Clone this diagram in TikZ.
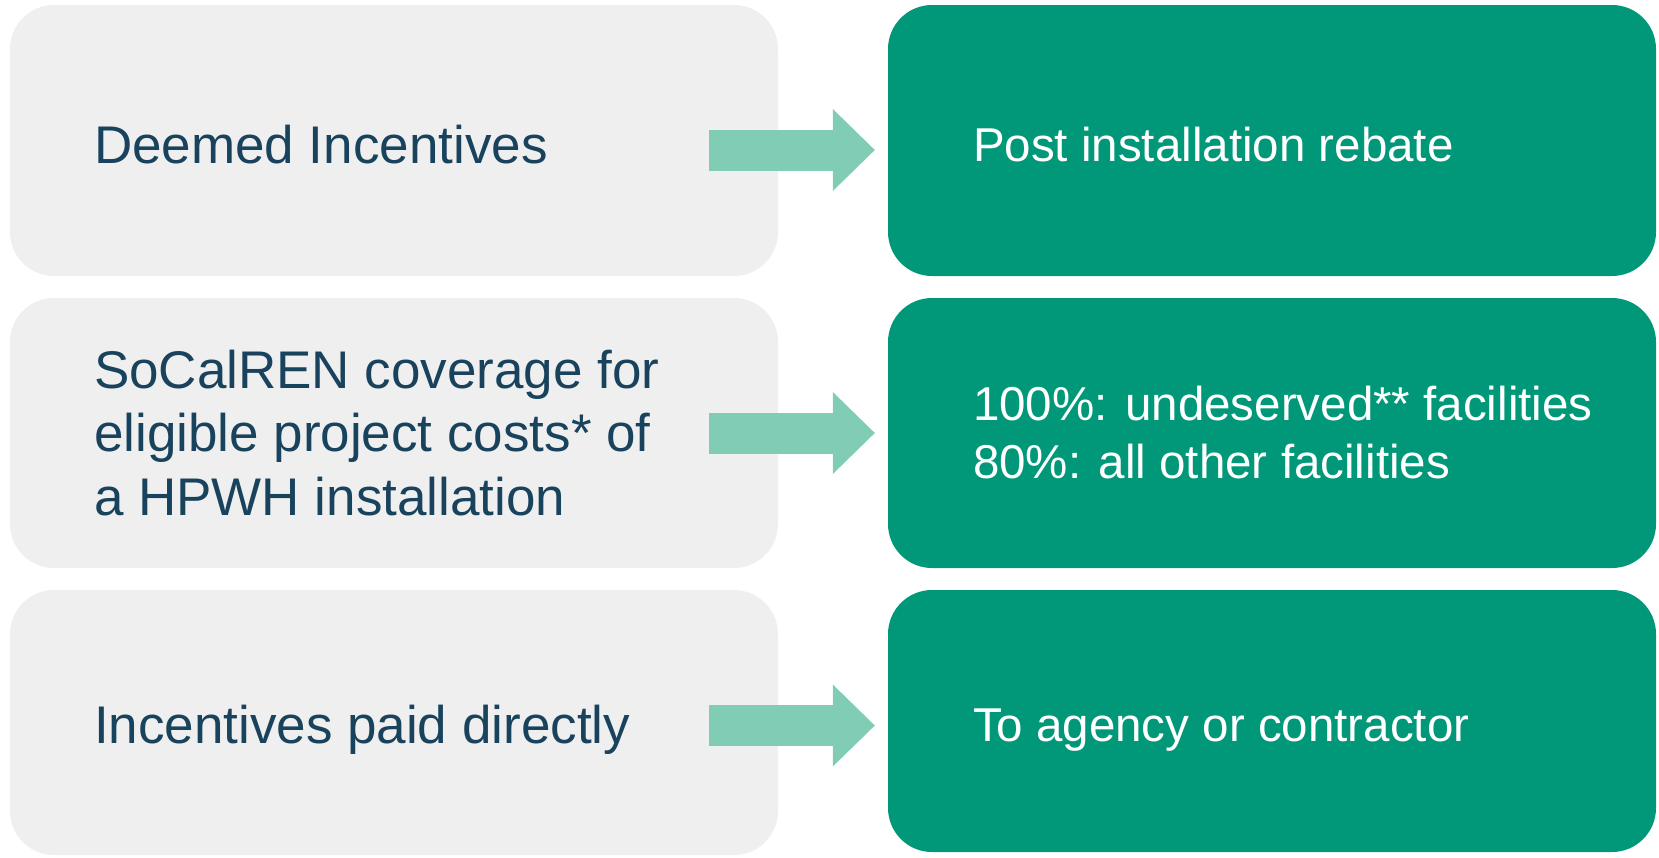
\documentclass[tikz,border=0pt]{standalone}
\usepackage{fontspec}
\setmainfont{Liberation Sans}
\usetikzlibrary{arrows.meta}
\definecolor{greybox}{HTML}{EFEFEF}
\definecolor{greenbox}{HTML}{009879}
\definecolor{arrowgreen}{HTML}{80CCB5}
\definecolor{navytext}{HTML}{19435D}
\begin{document}
\begin{tikzpicture}
[x=1pt,y=-1pt,
  greydecorate/.style={shape=rectangle,rounded corners=44pt,fill=greybox,minimum width=768pt,inner sep=0pt},%
  greendecorate/.style={shape=rectangle,rounded corners=44pt,fill=greenbox,minimum width=768pt,inner sep=0pt},%
  leftlabel/.style={anchor=west,align=left,inner sep=0pt,text=navytext,font=\fontsize{53}{63.5}\selectfont},%
  rightlabel/.style={anchor=west,align=left,inner sep=0pt,text=white,font=\fontsize{47.5}{58}\selectfont},%
  oneleft/.style={text height=56pt,text depth=11pt},%
  oneright/.style={text height=51pt,text depth=10pt},%
  arrowdecorate/.style={draw=arrowgreen,line width=41pt,-{Triangle[length=42pt,width=82pt,line width=0pt]}}]
\useasboundingbox (0,0) rectangle (1659,857);
% boxes
\node (deemed) at (394,140.5) [greydecorate,minimum height=271pt] {};
\node (coverage) at (394,433) [greydecorate,minimum height=270pt] {};
\node (paid) at (394,722.5) [greydecorate,minimum height=265pt] {};
\node (rebate) at (1272,140.5) [greendecorate,minimum height=271pt] {};
\node (share) at (1272,433) [greendecorate,minimum height=270pt] {};
\node (agency) at (1272,721) [greendecorate,minimum height=262pt] {};
% texts
\node (deemedtext) at ([xshift=84pt]deemed.west) [leftlabel,oneleft] {Deemed Incentives};
\node (coveragetext) at ([xshift=84pt]coverage.west) [leftlabel] {SoCalREN coverage for\\eligible project costs* of\\a HPWH installation};
\node (paidtext) at ([xshift=84pt,yshift=1.5pt]paid.west) [leftlabel,oneleft] {Incentives paid directly};
\node (rebatetext) at ([xshift=85pt]rebate.west) [rightlabel,oneright] {Post installation rebate};
\node (sharetext) at ([xshift=85pt]share.west) [rightlabel] {100\%: undeserved** facilities\\80\%: all other facilities};
\node (agencytext) at ([xshift=85pt]agency.west) [rightlabel,oneright] {To agency or contractor};
% arrows
\draw[arrowdecorate] ([xshift=-69pt,yshift=-9.5pt]deemed.east) -- ([xshift=-13pt,yshift=-9.5pt]rebate.west);
\draw[arrowdecorate] ([xshift=-69pt]coverage.east) -- ([xshift=-13pt]share.west);
\draw[arrowdecorate] ([xshift=-69pt,yshift=-3pt]paid.east) -- ([xshift=-13pt,yshift=-4.5pt]agency.west);
\end{tikzpicture}
\end{document}
